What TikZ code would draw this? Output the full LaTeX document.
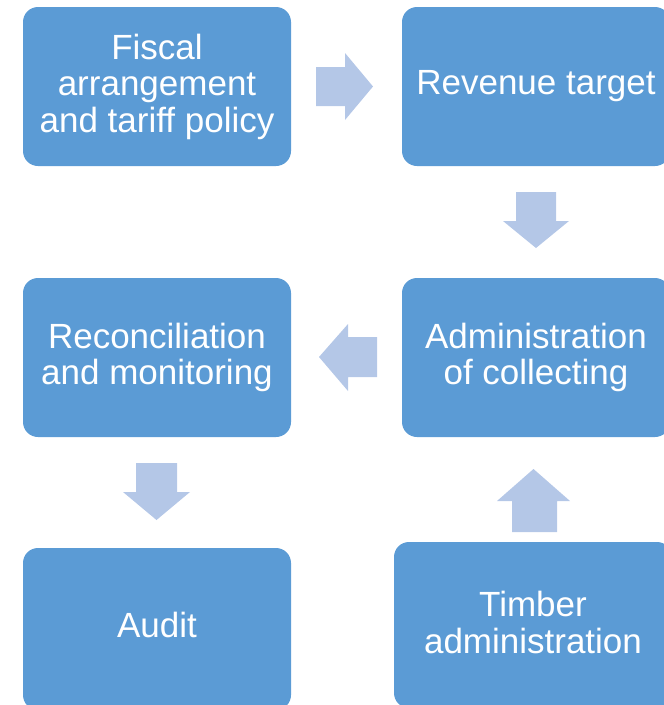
\documentclass[tikz,border=0pt]{standalone}
\usepackage{fontspec}
\setmainfont{Liberation Sans}
\definecolor{boxblue}{HTML}{5B9BD5}
\definecolor{arrowblue}{HTML}{B4C7E7}
\begin{document}
\begin{tikzpicture}[x=1pt,y=-1pt,
  stage/.style={fill=boxblue, draw=none, rounded corners=15pt, text=white,
    align=center, inner sep=0pt,
    font=\fontsize{35}{36.5}\selectfont},
  blockarrow/.style={fill=arrowblue, draw=none}]
\useasboundingbox (0,0) rectangle (664,705);
\begin{scope}
\clip (0,0) rectangle (664,705);
% process stages
\node[stage, minimum width=268pt, minimum height=159pt] (fiscal) at (157,86.5)
  {Fiscal\\arrangement\\and tariff policy};
\node[stage, minimum width=268pt, minimum height=159pt] (revenue) at (536,86.5)
  {Revenue target};
\node[stage, minimum width=268pt, minimum height=159pt] (recon) at (157,357.5)
  {Reconciliation\\and monitoring};
\node[stage, minimum width=268pt, minimum height=159pt] (admin) at (536,357.5)
  {Administration\\of collecting};
\node[stage, minimum width=268pt, minimum height=162pt, text depth=7.5pt] (audit) at (157,629)
  {Audit};
\node[stage, minimum width=278pt, minimum height=166pt, text depth=5pt] (timber) at (533,625)
  {Timber\\administration};
\end{scope}
% block arrows between the stages
\fill[blockarrow] (316,67) -- (345,67) -- (345,53) -- (373,86.5) -- (345,120)
  -- (345,106) -- (316,106) -- cycle;
\fill[blockarrow] (516,192) -- (556,192) -- (556,221) -- (569,221) -- (536,248)
  -- (503,221) -- (516,221) -- cycle;
\fill[blockarrow] (377,337) -- (348,337) -- (348,324) -- (319,357) -- (348,391)
  -- (348,377) -- (377,377) -- cycle;
\fill[blockarrow] (136,463) -- (177,463) -- (177,492) -- (190,492) -- (156.5,520)
  -- (123,492) -- (136,492) -- cycle;
\fill[blockarrow] (512,532) -- (557,532) -- (557,501) -- (570,501) -- (533.5,469)
  -- (497,501) -- (512,501) -- cycle;
\end{tikzpicture}
\end{document}
